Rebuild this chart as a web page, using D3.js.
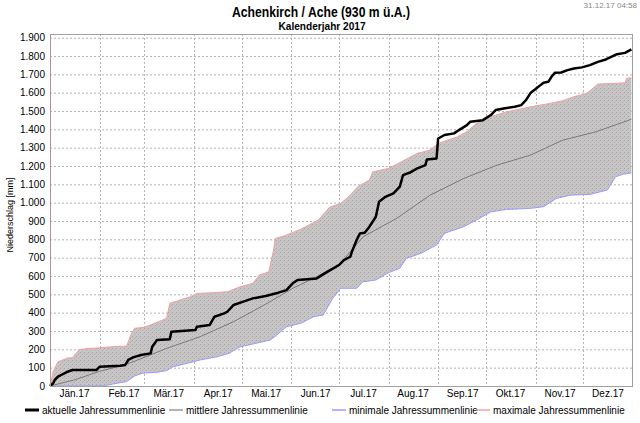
<!DOCTYPE html>
<html>
<head>
<meta charset="utf-8">
<script src="https://cdn.jsdelivr.net/npm/d3@7"></script>
<style>
  body { margin: 0; background: #fff; }
  svg { display: block; }
  text { font-family: "Liberation Sans", Arial, sans-serif; }
</style>
</head>
<body>
<svg id="chart" width="640" height="423"></svg>
<script>
// Tagessummen kumuliert, [Tag des Jahres (0 = 1. Jan), mm]
const aktuelle = [[0,0],[2,15],[3,33],[5,51],[7,60],[9,69],[11,78],[14,87],[29,87],[31,105],[44,111],[47,114],[49,142],[52,156],[57,169],[63,178],[64,214],[67,251],[75,255],[76,296],[91,305],[92,323],[100,333],[103,378],[109,396],[111,405],[115,442],[121,460],[127,478],[135,491],[143,509],[148,523],[152,560],[155,578],[167,587],[172,614],[181,660],[184,687],[188,705],[189,732],[192,796],[194,832],[197,836],[200,869],[204,923],[206,1005],[210,1032],[215,1051],[219,1087],[221,1150],[225,1163],[230,1187],[235,1205],[236,1236],[242,1241],[243,1350],[247,1369],[253,1378],[256,1396],[261,1423],[263,1441],[271,1450],[276,1478],[279,1505],[284,1514],[291,1523],[295,1532],[298,1559],[301,1600],[304,1620],[307,1641],[309,1654],[312,1659],[314,1687],[316,1708],[320,1710],[324,1723],[328,1732],[333,1738],[338,1750],[343,1768],[348,1781],[355,1810],[360,1817],[364,1836]];

const mittlere = [[0,0],[16,35],[31,80],[44,109],[52,132],[73,205],[94,269],[115,351],[136,451],[152,533],[167,596],[182,669],[196,814],[217,914],[238,1041],[259,1132],[280,1205],[301,1260],[321,1341],[342,1387],[364,1455]];

const minimale = [[0,0],[34,0],[36,5],[42,15],[48,24],[53,55],[58,70],[67,75],[73,84],[77,105],[86,124],[94,142],[105,160],[112,178],[119,214],[129,233],[138,251],[142,278],[148,323],[157,342],[165,378],[171,387],[177,478],[182,533],[192,533],[196,569],[204,578],[212,618],[219,642],[223,696],[232,723],[242,769],[247,833],[259,869],[267,905],[276,950],[286,963],[301,969],[309,978],[317,1023],[326,1041],[338,1045],[349,1069],[354,1141],[359,1156],[364,1162]];

const maximale = [[0,0],[2,78],[5,132],[8,142],[11,153],[14,154],[18,196],[23,205],[29,207],[38,214],[48,218],[51,287],[53,315],[59,320],[68,351],[73,369],[75,451],[80,465],[88,487],[92,505],[102,509],[111,514],[119,541],[127,560],[131,605],[137,623],[139,705],[140,742],[141,805],[147,820],[157,855],[168,905],[175,975],[182,996],[188,1041],[193,1090],[200,1123],[202,1168],[212,1187],[220,1223],[230,1269],[238,1287],[243,1323],[255,1359],[261,1387],[267,1432],[276,1469],[286,1496],[301,1523],[311,1538],[321,1556],[328,1578],[336,1596],[343,1647],[352,1650],[360,1654],[361,1678],[364,1681]];

const monatsLabels = ["Jän.17","Feb.17","Mär.17","Apr.17","Mai.17","Jun.17","Jul.17","Aug.17","Sep.17","Okt.17","Nov.17","Dez.17"];
const yTicks = [0,100,200,300,400,500,600,700,800,900,1000,1100,1200,1300,1400,1500,1600,1700,1800,1900];

const legende = [
  { name: "aktuelle Jahressummenlinie", color: "#000", width: 3 },
  { name: "mittlere Jahressummenlinie", color: "#999", width: 1.5 },
  { name: "minimale Jahressummenlinie", color: "#9a9aff", width: 1.5 },
  { name: "maximale Jahressummenlinie", color: "#f4a0a0", width: 1.5 }
];

const svg = d3.select("#chart");
const margin = { left: 50, right: 7, top: 34, bottom: 37 };
const W = 640, H = 423;

const start = new Date(2017, 0, 1), end = new Date(2018, 0, 1);
const x = d3.scaleTime().domain([start, end]).range([margin.left, W - margin.right]);
const y = d3.scaleLinear().domain([0, 1920]).range([H - margin.bottom, margin.top]);
const day = d => d3.timeDay.offset(start, d);

const de = d3.formatLocale({ decimal: ",", thousands: ".", grouping: [3], currency: ["", " €"] });
const fmt = de.format(",");

// Titel
svg.append("text").attr("x", 321).attr("y", 17).attr("text-anchor", "middle")
  .attr("textLength", 178).attr("lengthAdjust", "spacingAndGlyphs")
  .style("font-weight", "bold").style("font-size", "15px").text("Achenkirch / Ache (930 m ü.A.)");
svg.append("text").attr("x", 322).attr("y", 30).attr("text-anchor", "middle")
  .attr("textLength", 87).attr("lengthAdjust", "spacingAndGlyphs")
  .style("font-weight", "bold").style("font-size", "11px").text("Kalenderjahr 2017");
svg.append("text").attr("x", 637).attr("y", 8).attr("text-anchor", "end")
  .style("font-size", "8px").style("fill", "#888").text("31.12.17 04:58");

// Füllmuster
const defs = svg.append("defs");
const pat = defs.append("pattern").attr("id", "stipple").attr("width", 4).attr("height", 4)
  .attr("patternUnits", "userSpaceOnUse");
pat.append("rect").attr("width", 4).attr("height", 4).attr("fill", "#c6c6c6");
pat.append("rect").attr("x", 0).attr("y", 0).attr("width", 1).attr("height", 1).attr("fill", "#a4a4a4");
pat.append("rect").attr("x", 2).attr("y", 2).attr("width", 1).attr("height", 1).attr("fill", "#b0b0b0");
pat.append("rect").attr("x", 3).attr("y", 1).attr("width", 1).attr("height", 1).attr("fill", "#d2b0b0");

// Gitter
const plot = svg.append("g");
plot.selectAll(".hgrid").data(yTicks.filter(d => d > 0)).join("line")
  .attr("x1", margin.left).attr("x2", W - margin.right)
  .attr("y1", d => y(d) + 0.5).attr("y2", d => y(d) + 0.5)
  .attr("stroke", "#b4b4b4").attr("stroke-dasharray", "2,2");
const monate = d3.timeMonth.range(new Date(2017, 1, 1), end);
plot.selectAll(".vgrid").data(monate).join("line")
  .attr("x1", d => Math.round(x(d)) + 0.5).attr("x2", d => Math.round(x(d)) + 0.5)
  .attr("y1", margin.top).attr("y2", H - margin.bottom)
  .attr("stroke", "#b4b4b4").attr("stroke-dasharray", "2,2");

// Band min/max
const line = d3.line().x(d => x(day(d[0]))).y(d => y(d[1]));
const band = maximale.concat(minimale.slice().reverse());
plot.append("path").attr("d", line(band) + "Z").attr("fill", "url(#stipple)");

plot.append("path").datum(maximale).attr("d", line).attr("fill", "none")
  .attr("stroke", legende[3].color).attr("stroke-width", 1);
plot.append("path").datum(minimale).attr("d", line).attr("fill", "none")
  .attr("stroke", legende[2].color).attr("stroke-width", 1);
plot.append("path").datum(mittlere).attr("d", line).attr("fill", "none")
  .attr("stroke", "#7a7a7a").attr("stroke-width", 1);
plot.append("path").datum(aktuelle).attr("d", line).attr("fill", "none")
  .attr("stroke", "#000").attr("stroke-width", 2.5).attr("stroke-linejoin", "round");

// Rahmen
svg.append("rect").attr("x", margin.left + 0.5).attr("y", margin.top + 0.5)
  .attr("width", W - margin.left - margin.right - 1).attr("height", H - margin.top - margin.bottom)
  .attr("fill", "none").attr("stroke", "#a0a0a0");
svg.append("line").attr("x1", margin.left + 0.5).attr("x2", margin.left + 0.5)
  .attr("y1", margin.top).attr("y2", H - margin.bottom).attr("stroke", "#b89090");

// Achsen
const yAxis = d3.axisLeft(y).tickValues(yTicks).tickFormat(fmt).tickSize(0).tickPadding(5);
svg.append("g").attr("transform", `translate(${margin.left},0)`).call(yAxis)
  .call(g => g.select(".domain").remove())
  .selectAll("text").style("font-size", "10px").attr("fill", "#000");

const mitte = d3.timeMonth.range(start, end).map(m => new Date(m.getFullYear(), m.getMonth(), 16));
const xAxis = d3.axisBottom(x).tickValues(mitte).tickFormat((d, i) => monatsLabels[i]).tickSize(0).tickPadding(4);
svg.append("g").attr("transform", `translate(0,${H - margin.bottom})`).call(xAxis)
  .call(g => g.select(".domain").remove())
  .selectAll("text").style("font-size", "10px").attr("fill", "#000");

svg.append("text").attr("transform", "translate(13,215) rotate(-90)").attr("text-anchor", "middle")
  .style("font-size", "9px").text("Niederschlag [mm]");

// Legende
const legX = [25, 169, 332, 476];
const lg = svg.append("g").attr("transform", "translate(0,410)");
legende.forEach((l, i) => {
  lg.append("line").attr("x1", legX[i]).attr("x2", legX[i] + 14).attr("y1", 0).attr("y2", 0)
    .attr("stroke", l.color).attr("stroke-width", l.width);
  lg.append("text").attr("x", legX[i] + 17).attr("y", 4).style("font-size", "10px").text(l.name);
});
</script>
</body>
</html>
